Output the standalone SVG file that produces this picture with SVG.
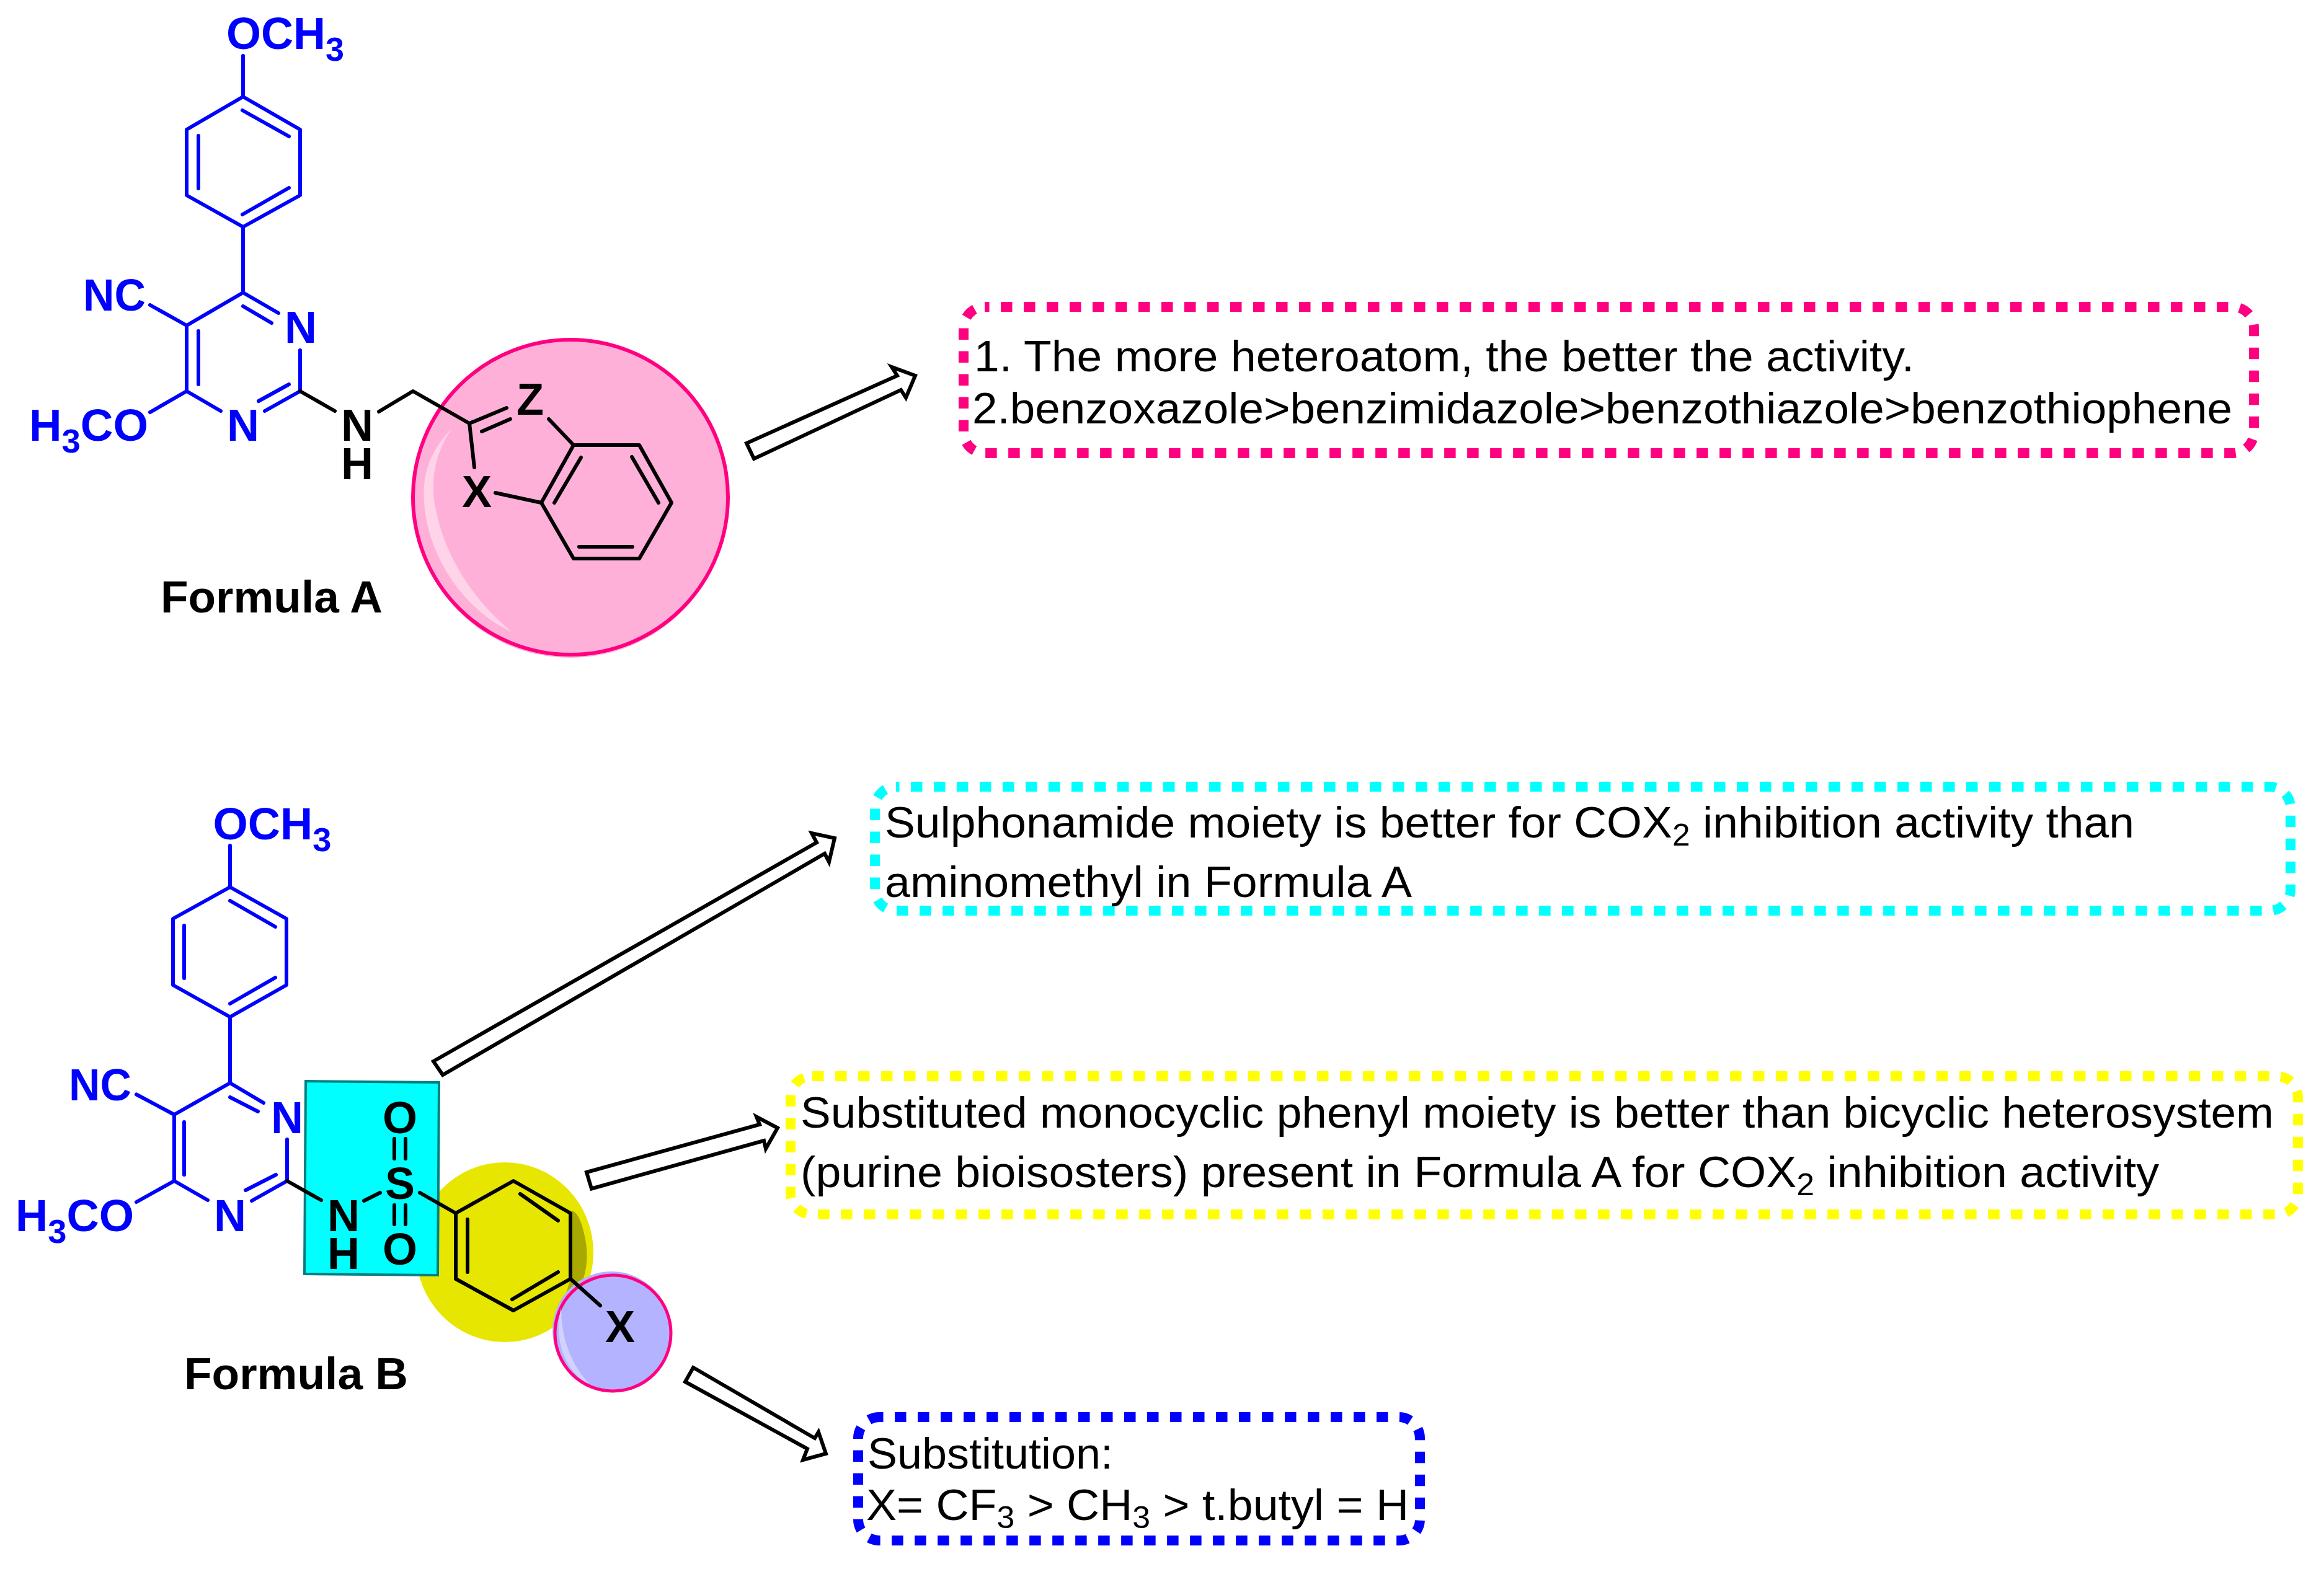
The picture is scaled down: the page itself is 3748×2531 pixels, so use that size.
<svg xmlns="http://www.w3.org/2000/svg" width="3748" height="2531" viewBox="0 0 3748 2531">
<style>
text{transform:translate(0,1.5px)}
.b{fill:none;stroke:#0000ff;stroke-width:6;stroke-linecap:round;stroke-linejoin:round}
.k{fill:none;stroke:#000;stroke-width:6;stroke-linecap:round;stroke-linejoin:round}
.lb,.lk{font-family:"Liberation Sans",Arial,sans-serif;font-weight:bold;font-size:72px}
.lb{fill:#0000ff}.lk{fill:#000}
.c{text-anchor:middle}
.t{font-family:"Liberation Sans",Arial,sans-serif;font-size:71px;fill:#000}
.box{fill:none;stroke-width:16;stroke-dasharray:18.5 18.5}
.arrow{fill:#fff;stroke:#000;stroke-width:6;stroke-linejoin:miter}
</style>
<rect width="3748" height="2531" fill="#fff"/>

<g id="highlight-a">
<circle cx="920" cy="807" r="254" fill="#ffb0d8"/>
<circle cx="920" cy="802" r="254" fill="#ffb0d8" stroke="#ff0080" stroke-width="6"/>
<path d="M729 691C695 725 680 765 684 810C690 900 750 985 825 1019C760 965 712 890 700 806C695 765 705 725 729 691Z" fill="#ffd4e8"/>
</g>
<g id="formula-a-core">
<path class="b" d="M392 90V156L484 209V315L392 366L301 315V209L392 156M391 178L466 220M320 219V304M391 346L466 303M392 366V472L301 525V631L356 663M392 472L449 505M392 494L438 521M484 565V631L427 663M466 620L417 647M320 534V620M242 492L301 525M242 665L301 631"/>
<text class="lb" x="365" y="77" textLength="190" lengthAdjust="spacingAndGlyphs">OCH<tspan font-size="54" dy="19">3</tspan></text>
<text class="lb c" x="485" y="551">N</text>
<text class="lb c" x="392" y="709">N</text>
<text class="lb" x="134" y="499" textLength="101" lengthAdjust="spacingAndGlyphs">NC</text>
<text class="lb" x="47" y="709" textLength="192" lengthAdjust="spacingAndGlyphs">H<tspan font-size="54" dy="19">3</tspan><tspan dy="-19">CO</tspan></text>
</g>
<g id="formula-a-tail">
<path class="k" d="M484 631L540 663M611 664L666 631L757 683L817 658M777 696L823 676M757 683L765 754M799 795L873 811L925 718H1031L1083 811L1031 901H925L873 811M885 676L925 718M937 738L894 811M1019 737L1062 811M934 882H1020"/>
<text class="lk c"><tspan x="576" y="709">N</tspan><tspan x="576" y="771">H</tspan></text>
<text class="lk c" x="855" y="667">Z</text>
<text class="lk c" x="769" y="816">X</text>
</g>
<g id="label-a"><text class="lk" x="259" y="986" textLength="358" lengthAdjust="spacingAndGlyphs">Formula A</text></g>

<g id="highlight-b">
<ellipse cx="814" cy="2020" rx="143" ry="145" fill="#e6e600"/>
<path d="M922 1953Q934 1955 942 1990Q952 2030 940 2065L909 2100L920 2063Z" fill="#a8a800"/>
<path d="M493 1744L708 1746L706 2057L491 2055Z" fill="#00ffff" stroke="#007f7f" stroke-width="4"/>
<ellipse cx="986" cy="2146" rx="95" ry="95" fill="#b3b3ff"/>
<ellipse cx="988.500" cy="2150.500" rx="93.500" ry="93.500" fill="#b3b3ff" stroke="#ff0080" stroke-width="5"/>
<path d="M905 2110C892 2160 912 2215 950 2232C925 2205 905 2165 905 2110Z" fill="#d2d2ff"/>
</g>
<g id="formula-b-core">
<path class="b" d="M371 1364V1431L462 1482V1589L371 1640.500L279 1589V1482L371 1431M371 1453L444 1495M297 1493V1578M371 1619L444 1577M371 1640.500V1747L281 1798V1905L335 1936M371 1747L425 1779M371 1770L416 1793M463 1838V1905L406 1937M445 1895L396 1920M297 1810V1895M220 1765.500L281 1798M220 1939L281 1905"/>
<text class="lb" x="343.500" y="1352" textLength="191" lengthAdjust="spacingAndGlyphs">OCH<tspan font-size="54" dy="19">3</tspan></text>
<text class="lb c" x="463" y="1826">N</text>
<text class="lb c" x="371" y="1984">N</text>
<text class="lb" x="111" y="1773" textLength="101" lengthAdjust="spacingAndGlyphs">NC</text>
<text class="lb" x="25" y="1984" textLength="191" lengthAdjust="spacingAndGlyphs">H<tspan font-size="54" dy="19">3</tspan><tspan dy="-19">CO</tspan></text>
</g>
<g id="formula-b-tail">
<path class="k" d="M463 1905L518 1936M587 1937L613 1924M677 1924L735 1957L828 1905L920 1957V2063L828 2114L735 2063V1957M754 1967V2052M839 1926L900 1969M826 2096L900 2052M920 2063L968 2106M636 1837V1869M654 1837V1869M636 1944V1975M654 1944V1975"/>
<text class="lk c"><tspan x="554" y="1984">N</tspan><tspan x="554" y="2045">H</tspan></text>
<text class="lk c" x="645" y="1932">S</text>
<text class="lk c" x="645" y="1826">O</text>
<text class="lk c" x="645" y="2038">O</text>
<text class="lk c" x="1000" y="2163">X</text>
</g>
<g id="label-b"><text class="lk" x="297" y="2239" textLength="361" lengthAdjust="spacingAndGlyphs">Formula B</text></g>

<g id="connectors">
<path class="arrow" d="M1204 715L1447 606L1438 592L1476 606L1461 641.500L1453 629L1216 740Z"/>
<path class="arrow" d="M699 1712L1317 1359L1309 1344L1346 1352L1337 1390.500L1330 1377L714 1734Z"/>
<path class="arrow" d="M946 1891L1225 1814L1220 1801.500L1254 1819.500L1235 1853L1232 1840L954 1917.500Z"/>
<path class="arrow" d="M1118 2206L1314 2320L1320 2310L1332 2345L1295 2355L1302 2337L1105 2229Z"/>
</g>

<g id="note-pink">
<rect class="box" x="1554" y="495" width="2081" height="236" rx="34" stroke="#ff0080" stroke-dashoffset="11"/>
<text class="t" x="1571" y="597" textLength="1516" lengthAdjust="spacingAndGlyphs">1. The more heteroatom, the better the activity.</text>
<text class="t" x="1568" y="681" textLength="2032" lengthAdjust="spacingAndGlyphs">2.benzoxazole&gt;benzimidazole&gt;benzothiazole&gt;benzothiophene</text>
</g>
<g id="note-cyan">
<rect class="box" x="1411" y="1269" width="2283" height="200" rx="34" stroke="#00ffff" stroke-dashoffset="13"/>
<text class="t" x="1427" y="1349" textLength="2015" lengthAdjust="spacingAndGlyphs">Sulphonamide moiety is better for COX<tspan font-size="50" dy="13">2</tspan><tspan dy="-13"> inhibition activity than</tspan></text>
<text class="t" x="1427" y="1445" textLength="850" lengthAdjust="spacingAndGlyphs">aminomethyl in Formula A</text>
</g>
<g id="note-yellow">
<rect class="box" x="1275" y="1736" width="2431" height="223" rx="34" stroke="#ffff00" stroke-dashoffset="36"/>
<text class="t" x="1291" y="1817" textLength="2376" lengthAdjust="spacingAndGlyphs">Substituted monocyclic phenyl moiety is better than bicyclic heterosystem</text>
<text class="t" x="1291" y="1913" textLength="2191" lengthAdjust="spacingAndGlyphs">(purine bioisosters) present in Formula A for COX<tspan font-size="50" dy="13">2</tspan><tspan dy="-13"> inhibition activity</tspan></text>
</g>
<g id="note-blue">
<rect class="box" x="1384" y="2286" width="906" height="199" rx="34" stroke="#0000ff" stroke-dashoffset="12"/>
<text class="t" x="1399" y="2367" textLength="396" lengthAdjust="spacingAndGlyphs">Substitution:</text>
<text class="t" x="1397" y="2450" textLength="875" lengthAdjust="spacingAndGlyphs">X= CF<tspan font-size="50" dy="13">3</tspan><tspan dy="-13"> &gt; CH</tspan><tspan font-size="50" dy="13">3</tspan><tspan dy="-13"> &gt; t.butyl = H</tspan></text>
</g>
</svg>
